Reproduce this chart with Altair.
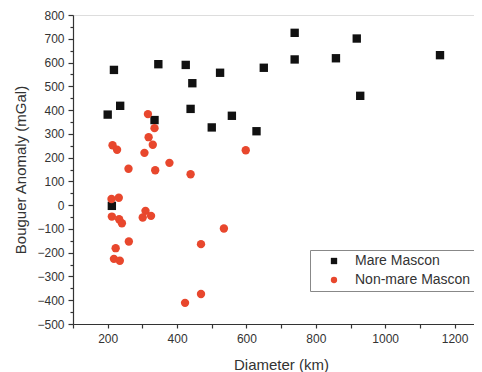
import altair as alt
import pandas as pd

mare_d = [200, 218, 236, 335, 346, 425, 444, 439, 524, 500, 558, 629, 650, 739, 739, 858, 918, 928, 1158, 212]
mare_b = [381, 569, 418, 358, 593, 590, 513, 405, 557, 327, 376, 311, 578, 725, 613, 618, 701, 460, 631, -3]

non_d = [316, 335, 318, 330, 214, 227, 306, 598, 260, 337, 378, 439, 211, 232, 212, 233, 241, 309, 301, 325,
         535, 261, 469, 223, 218, 235, 469, 423]
non_b = [383, 324, 286, 254, 252, 233, 220, 231, 153, 147, 178, 130, 26, 31, -48, -59, -76, -24, -52, -45,
         -98, -153, -164, -181, -226, -234, -374, -411]

series = ["Mare Mascon", "Non-mare Mascon"]
colors = ["#111111", "#e8472d"]
shapes = ["square", "circle"]

x_ticks = list(range(100, 1300, 100))
y_major = list(range(-500, 801, 100))
y_minor = list(range(-450, 800, 100))

df = pd.DataFrame({
    "d": mare_d + non_d,
    "b": mare_b + non_b,
    "s": [series[0]] * len(mare_d) + [series[1]] * len(non_d),
})

FONT = "Liberation Sans"
xs = alt.Scale(domain=[100, 1256], nice=False, zero=False)
ys = alt.Scale(domain=[-500, 800], nice=False, zero=False)

axis_common = dict(grid=False, domainColor="#333333", tickColor="#333333", domainWidth=1.2,
                   tickWidth=1.2, labelColor="#333333", labelFont=FONT, labelFontSize=12,
                   titleFont=FONT, titleFontSize=15, titleColor="#333333", titleFontWeight="normal")

base = alt.Chart(df)

points = base.mark_point(filled=True, size=70, opacity=1).encode(
    x=alt.X("d:Q", scale=xs, axis=alt.Axis(title="Diameter (km)", values=x_ticks, tickSize=4, format="d",
                                             labelExpr="datum.value % 200 == 0 ? datum.label : ''",
                                             labelPadding=5, titlePadding=13, titleX=208,
                                             orient="bottom", **axis_common)),
    y=alt.Y("b:Q", scale=ys, axis=alt.Axis(title="Bouguer Anomaly (mGal)", values=y_major, tickSize=5,
                                             labelPadding=4, titlePadding=8, orient="left", **axis_common)),
    color=alt.Color("s:N", scale=alt.Scale(domain=series, range=colors),
                    legend=alt.Legend(title=None, orient="none", legendX=237, legendY=235,
                                      strokeColor="#888888", padding=4, symbolOffset=13,
                                      symbolSize=40, labelFont=FONT, labelFontSize=14,
                                      labelColor="#333333", labelOffset=14, rowPadding=5,
                                      labelLimit=400, symbolStrokeWidth=0)),
    shape=alt.Shape("s:N", scale=alt.Scale(domain=series, range=shapes)),
)

minor = base.mark_point(opacity=0).encode(
    x=alt.X("d:Q", scale=xs, axis=None),
    y=alt.Y("b:Q", scale=ys, axis=alt.Axis(title=None, values=y_minor, tickSize=3, labels=False,
                                             domain=False, orient="left", grid=False,
                                             tickColor="#333333", tickWidth=1.2)),
)

chart = alt.layer(points, minor).resolve_axis(x="independent", y="independent").properties(
    width=401, height=309, autosize="none",
    padding={"left": 65, "top": 7, "right": 0, "bottom": 52},
).configure_view(stroke=None).configure(background="white")

chart.save("out.html", embed_options={"renderer": "svg", "actions": False})
